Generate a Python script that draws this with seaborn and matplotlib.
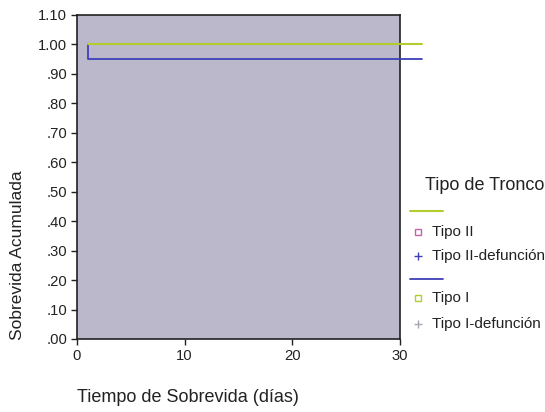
import matplotlib
matplotlib.use("Agg")
import matplotlib.pyplot as plt
import seaborn as sns
import pandas as pd
from matplotlib.lines import Line2D

sns.set_style("white")
plt.rcParams['font.family'] = ['Liberation Sans', 'DejaVu Sans']

# Data (Kaplan-Meier step curves)
tipo_ii_time = [1, 32]
tipo_ii_surv = [1.00, 1.00]
tipo_i_time = [1, 1, 32]
tipo_i_surv = [1.00, 0.95, 0.95]

y_ticks = [0.0, 0.1, 0.2, 0.3, 0.4, 0.5, 0.6, 0.7, 0.8, 0.9, 1.0, 1.1]
y_labels = [".00", ".10", ".20", ".30", ".40", ".50", ".60", ".70", ".80", ".90", "1.00", "1.10"]
x_ticks = [0, 10, 20, 30]

legend_title = "Tipo de Tronco"
legend_labels = ["Tipo II", "Tipo II-defunción", "Tipo I", "Tipo I-defunción"]

green = "#b5cc2e"
blue = "#4040b8"
pink = "#c860b0"
gray = "#a8a8b0"

fig = plt.figure(figsize=(5.45, 4.12), dpi=100)
ax = fig.add_axes([77/545, 1 - 339/412, (400-77)/545, (339-15)/412])
ax.set_facecolor("#bab8ca")

df_ii = pd.DataFrame({"t": tipo_ii_time, "s": tipo_ii_surv})
df_i = pd.DataFrame({"t": tipo_i_time, "s": tipo_i_surv})
sns.lineplot(data=df_i, x="t", y="s", estimator=None, sort=False, ax=ax,
             color=blue, lw=1.3, clip_on=False, zorder=3)
sns.lineplot(data=df_ii, x="t", y="s", estimator=None, sort=False, ax=ax,
             color=green, lw=1.5, clip_on=False, zorder=4)

ax.set_xlim(0, 30)
ax.set_ylim(0, 1.10)
ax.set_yticks(y_ticks)
ax.set_yticklabels(y_labels)
ax.set_xticks(x_ticks)
ax.set_xticklabels([str(v) for v in x_ticks])
ax.tick_params(axis="both", direction="out", length=4, width=1, labelsize=10.6,
               colors="#222222", left=True, bottom=True, pad=3)
for sp in ax.spines.values():
    sp.set_color("#222222")
    sp.set_linewidth(1.2)
ax.set_xlabel("")
ax.set_ylabel("")

fig.text(18/545, 1 - 255/412, "Sobrevida Acumulada", rotation=90, ha="center",
         va="center", fontsize=12.5, color="#222222")
fig.text(188/545, 1 - 397/412, "Tiempo de Sobrevida (días)", ha="center",
         va="center", fontsize=13, color="#222222")

# Legend (manual layout)
fig.text(485/545, 1 - 186/412, legend_title, ha="center", va="center",
         fontsize=13, color="#222222")

def fx(px):
    return px / 545

def fy(py):
    return 1 - py / 412

fig.add_artist(Line2D([fx(410), fx(443)], [fy(211), fy(211)], color=green, lw=1.5))
fig.add_artist(Line2D([fx(410), fx(443)], [fy(279), fy(279)], color=blue, lw=1.3))
entries = [
    (232, "s", pink, legend_labels[0]),
    (256, "+", blue, legend_labels[1]),
    (298, "s", green, legend_labels[2]),
    (324, "+", gray, legend_labels[3]),
]
for py, mk, col, lab in entries:
    if mk == "s":
        fig.add_artist(Line2D([fx(418)], [fy(py)], marker="s", markersize=4,
                              markerfacecolor="none", markeredgecolor=col, lw=0))
    else:
        fig.add_artist(Line2D([fx(418)], [fy(py)], marker="+", markersize=6,
                              color=col, lw=0))
    fig.text(fx(432), fy(py), lab, ha="left", va="center", fontsize=11,
             color="#222222")

fig.savefig("out.png", dpi=100)
